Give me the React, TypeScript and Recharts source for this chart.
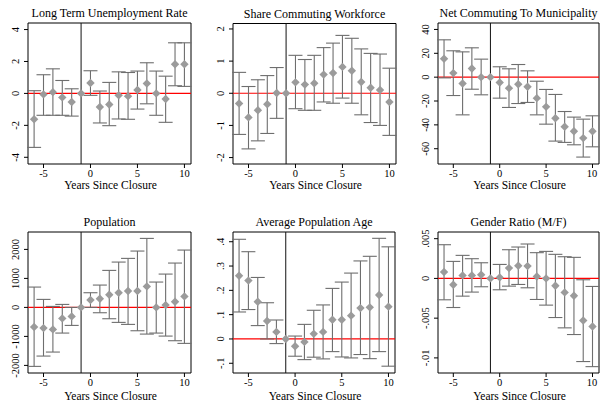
import React from 'react';
import {
  ComposedChart,
  ErrorBar,
  ReferenceArea,
  ReferenceLine,
  Scatter,
  XAxis,
  YAxis,
} from 'recharts';

const years = [-6, -5, -4, -3, -2, -1, 0, 1, 2, 3, 4, 5, 6, 7, 8, 9, 10];
const xTicks = [-5, 0, 5, 10];

const ltuEst = [-1.62, -0.06, 0.08, -0.25, -0.54, 0, 0.65, -0.85, -0.69, -0.12, -0.17, 0.21, 0.62, 0, -0.35, 1.83, 1.83];
const ltuLo = [-3.38, -1.37, -1.37, -1.37, -1.42, null, -0.12, -1.85, -2.02, -1.6, -1.62, -0.98, -0.65, -1.37, -1.81, 0.48, 0.44];
const ltuHi = [0.17, 1.17, 1.54, 0.81, 0.29, null, 1.42, 0.15, 0.69, 1.35, 1.31, 1.4, 1.92, 1.4, 1.08, 3.17, 3.17];

const scwEst = [-0.32, -0.75, -0.53, -0.34, 0.01, 0, 0.34, 0.27, 0.31, 0.58, 0.63, 0.82, 0.7, 0.35, 0.17, 0.1, -0.27];
const scwLo = [-1.28, -1.73, -1.48, -1.25, -0.78, null, -0.48, -0.53, -0.53, -0.27, -0.31, -0.15, -0.31, -0.67, -0.91, -1.0, -1.31];
const scwHi = [0.65, 0.21, 0.42, 0.55, 0.8, null, 1.18, 1.05, 1.18, 1.42, 1.56, 1.8, 1.71, 1.38, 1.24, 1.22, 0.78];

const ncmEst = [15.4, 3.4, -5.3, 7.3, 0, 0, -4.5, -9.2, -5.9, -8.1, -17.6, -24.9, -34.4, -41.6, -45.3, -51.1, -45.3];
const ncmLo = [-0.6, -15.4, -31.6, -10.1, -14.8, null, -17.6, -25.4, -22.1, -21.2, -31.6, -39.4, -53.6, -54.7, -56.7, -67.0, -58.4];
const ncmHi = [31.3, 22.1, 21.2, 24.6, 15.1, null, 8.7, 7.0, 10.6, 5.3, -3.4, -10.3, -14.5, -28.8, -33.5, -35.2, -32.4];

const popEst = [-678, -713, -759, -379, -310, 0, 253, 299, 437, 506, 563, 563, 724, 0, 80, 195, 379];
const popLo = [-2034, -1678, -1540, -885, -621, null, 0, -184, -391, -517, -586, -805, -920, -885, -989, -1149, -1241];
const popHi = [701, 276, 34, 103, 0, null, 506, 770, 1276, 1563, 1690, 1943, 2379, 874, 1149, 1529, 1977];

const ageEst = [0.26, 0.24, 0.153, 0.074, 0.029, 0, -0.03, -0.012, 0.021, 0.029, 0.079, 0.079, 0.096, 0.127, 0.13, 0.181, 0.133];
const ageLo = [0.111, 0.121, 0.055, 0, -0.019, null, -0.071, -0.085, -0.075, -0.082, -0.052, -0.074, -0.078, -0.064, -0.081, -0.052, -0.112];
const ageHi = [0.41, 0.359, 0.253, 0.149, 0.078, null, 0.012, 0.06, 0.118, 0.14, 0.208, 0.234, 0.271, 0.321, 0.34, 0.414, 0.379];

const genEst = [0.0008, -0.0008, 0.00038, 0.00038, 0.00046, 0, 0.00013, 0.0013, 0.0016, 0.00155, 0.00025, 0, -0.00092, -0.00176, -0.00218, -0.0053, -0.00605];
const genLo = [-0.00269, -0.00366, -0.00223, -0.00172, -0.00105, null, -0.00143, -0.00097, -0.00076, -0.00118, -0.00265, -0.00336, -0.00492, -0.00622, -0.00706, -0.01046, -0.0111];
const genHi = [0.00424, 0.00214, 0.0029, 0.00248, 0.00197, null, 0.00176, 0.00361, 0.00395, 0.00433, 0.00324, 0.0034, 0.00303, 0.00273, 0.00265, -0.00017, -0.00101];

const FONT = 'Liberation Serif';
const X_DOMAIN: [number, number] = [-6.65, 10.7];

type Panel = {
  title: string;
  est: number[];
  lo: (number | null)[];
  hi: (number | null)[];
  yDomain: [number, number];
  yTicks: number[];
  yLabels: string[];
  left: number;
  top: number;
  box: { l: number; r: number; t: number; b: number };
};

const panels: Panel[] = [
  {
    title: 'Long Term Unemployment Rate',
    est: ltuEst, lo: ltuLo, hi: ltuHi,
    yDomain: [-4.42, 4.41], yTicks: [-4, -2, 0, 2, 4], yLabels: ['-4', '-2', '0', '2', '4'],
    left: 0, top: 0, box: { l: 28, r: 191, t: 23, b: 164 },
  },
  {
    title: 'Share Commuting Workforce',
    est: scwEst, lo: scwLo, hi: scwHi,
    yDomain: [-2.2, 2.17], yTicks: [-2, -1, 0, 1, 2], yLabels: ['-2', '-1', '0', '1', '2'],
    left: 200, top: 0, box: { l: 33, r: 196, t: 23.5, b: 164 },
  },
  {
    title: 'Net Commuting To Municipality',
    est: ncmEst, lo: ncmLo, hi: ncmHi,
    yDomain: [-72.8, 45.4], yTicks: [-60, -40, -20, 0, 20, 40], yLabels: ['-60', '-40', '-20', '0', '20', '40'],
    left: 400, top: 0, box: { l: 38, r: 199, t: 23, b: 164 },
  },
  {
    title: 'Population',
    est: popEst, lo: popLo, hi: popHi,
    yDomain: [-2262, 2600], yTicks: [-2000, -1000, 0, 1000, 2000], yLabels: ['-2000', '-1000', '0', '1000', '2000'],
    left: 0, top: 200, box: { l: 28, r: 191, t: 32, b: 173 },
  },
  {
    title: 'Average Population Age',
    est: ageEst, lo: ageLo, hi: ageHi,
    yDomain: [-0.14, 0.44], yTicks: [-0.1, 0, 0.1, 0.2, 0.3, 0.4], yLabels: ['-.1', '0', '.1', '.2', '.3', '.4'],
    left: 200, top: 200, box: { l: 33, r: 195, t: 32, b: 173 },
  },
  {
    title: 'Gender Ratio (M/F)',
    est: genEst, lo: genLo, hi: genHi,
    yDomain: [-0.0119, 0.00584], yTicks: [-0.01, -0.005, 0, 0.005], yLabels: ['-.01', '-.005', '0', '.005'],
    left: 400, top: 200, box: { l: 38, r: 199, t: 32, b: 173 },
  },
];

const Diamond = (props: any) => {
  const { cx, cy } = props;
  if (cx == null || cy == null) return null;
  const s = 4.2;
  return (
    <polygon
      points={`${cx},${cy - s} ${cx + s},${cy} ${cx},${cy + s} ${cx - s},${cy}`}
      fill="#9b9b9b"
    />
  );
};

const EventPlot = ({ p }: { p: Panel }) => {
  const W = 200;
  const H = p.top === 0 ? 200 : 201;
  const data = years.map((x, i) => ({
    x,
    y: p.est[i],
    err: p.lo[i] == null ? null : [p.est[i] - (p.lo[i] as number), (p.hi[i] as number) - p.est[i]],
  }));
  const labelFor = (v: number) => {
    const idx = p.yTicks.findIndex((t) => Math.abs(t - v) < 1e-9);
    return idx >= 0 ? p.yLabels[idx] : String(v);
  };
  const axisLabelOffset = p.top === 0 ? 24.5 : 27;

  return (
    <div style={{ position: 'absolute', left: p.left, top: p.top, width: W, height: H }}>
      <div
        style={{
          position: 'absolute',
          left: p.box.l - 10,
          width: p.box.r - p.box.l + 20,
          top: p.box.t - 17,
          height: 14,
          lineHeight: '14px',
          textAlign: 'center',
          fontFamily: FONT,
          fontSize: 12,
          color: '#000',
          whiteSpace: 'nowrap',
        }}
      >
        {p.title}
      </div>
      <ComposedChart
        width={W}
        height={H}
        data={data}
        margin={{ top: p.box.t, right: W - p.box.r, bottom: 0, left: 0 }}
      >
        <XAxis
          type="number"
          dataKey="x"
          domain={X_DOMAIN}
          ticks={xTicks}
          allowDataOverflow
          axisLine={false}
          tickSize={4}
          tickMargin={2}
          tickLine={{ stroke: '#000' }}
          height={H - p.box.b}
          tick={(t: any) => (
            <text x={t.x} y={t.y} dy="0.68em" textAnchor="middle" fontFamily={FONT} fontSize={10.5} fill="#000">
              {t.payload.value}
            </text>
          )}
          label={(l: any) => {
            const vb = l.viewBox;
            return (
              <text
                x={vb.x + vb.width / 2 + 1}
                y={vb.y + axisLabelOffset}
                textAnchor="middle"
                fontFamily={FONT}
                fontSize={11.5}
                fill="#000"
              >
                Years Since Closure
              </text>
            );
          }}
        />
        <YAxis
          type="number"
          domain={p.yDomain}
          ticks={p.yTicks}
          allowDataOverflow
          axisLine={false}
          tickSize={4}
          tickMargin={0}
          tickLine={{ stroke: '#000' }}
          width={p.box.l}
          tick={(t: any) => (
            <text
              transform={`translate(${t.x - 9}, ${t.y}) rotate(-90)`}
              dy="0.35em"
              textAnchor="middle"
              fontFamily={FONT}
              fontSize={10.5}
              fill="#000"
            >
              {labelFor(t.payload.value)}
            </text>
          )}
        />
        <ReferenceLine y={0} stroke="#ff0000" strokeWidth={1.2} ifOverflow="visible" />
        <ReferenceLine x={-1} stroke="#111" strokeWidth={1} ifOverflow="visible" />
        <Scatter dataKey="y" shape={<Diamond />} isAnimationActive={false}>
          <ErrorBar dataKey="err" direction="y" width={7} stroke="#6e6e6e" strokeWidth={1.1} />
        </Scatter>
        <ReferenceArea
          x1={X_DOMAIN[0]}
          x2={X_DOMAIN[1]}
          y1={p.yDomain[0]}
          y2={p.yDomain[1]}
          fill="none"
          stroke="#000"
          strokeWidth={1}
          ifOverflow="visible"
        />
      </ComposedChart>
    </div>
  );
};

export default function App() {
  return (
    <div style={{ position: 'absolute', left: 0, top: 0, width: 600, height: 401, background: '#fff', overflow: 'hidden' }}>
      {panels.map((p) => (
        <EventPlot key={p.title} p={p} />
      ))}
    </div>
  );
}
